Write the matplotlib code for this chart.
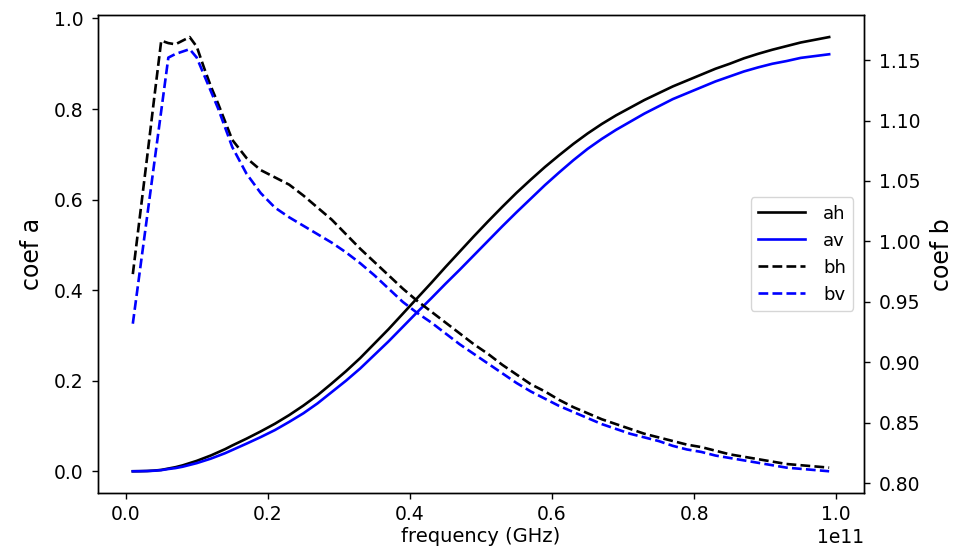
import matplotlib
matplotlib.use("Agg")
import matplotlib.pyplot as plt
import numpy as np

# frequency in GHz
freq_ghz = [1, 2, 3, 4, 5, 6, 7, 8, 9, 10, 11, 12, 13, 14, 15,
            17, 19, 21, 23, 25, 27, 29, 31, 33, 35, 37, 39, 41, 43, 45, 47, 49,
            51, 53, 55, 57, 59, 61, 63, 65, 67, 69, 71, 73, 75, 77, 79,
            81, 83, 85, 87, 89, 91, 93, 95, 97, 99]

ah = [0.0000, 0.0002, 0.0006, 0.0015, 0.003, 0.006, 0.009, 0.013, 0.018, 0.023,
      0.029, 0.035, 0.042, 0.049, 0.057,
      0.072, 0.088, 0.105, 0.124, 0.145, 0.168, 0.194, 0.221, 0.250, 0.282,
      0.314, 0.348, 0.382, 0.416, 0.451, 0.485, 0.519,
      0.552, 0.584, 0.615, 0.644, 0.672, 0.698, 0.723, 0.746, 0.767, 0.786,
      0.803, 0.820, 0.835, 0.850, 0.863,
      0.876, 0.889, 0.900, 0.912, 0.922, 0.931, 0.939, 0.947, 0.953, 0.959]

av = [0.0000, 0.0002, 0.0005, 0.0012, 0.0025, 0.005, 0.007, 0.010, 0.014, 0.018,
      0.023, 0.028, 0.034, 0.040, 0.047,
      0.061, 0.0755, 0.091, 0.109, 0.128, 0.150, 0.175, 0.200, 0.227, 0.257,
      0.287, 0.319, 0.351, 0.382, 0.414, 0.445, 0.477,
      0.509, 0.541, 0.572, 0.602, 0.632, 0.660, 0.687, 0.712, 0.734, 0.754,
      0.772, 0.790, 0.806, 0.822, 0.835,
      0.848, 0.861, 0.872, 0.883, 0.892, 0.900, 0.906, 0.913, 0.917, 0.921]

bh = [0.973, 1.021, 1.069, 1.118, 1.166, 1.164, 1.163, 1.166, 1.169, 1.161,
      1.144, 1.128, 1.114, 1.099, 1.084,
      1.069, 1.059, 1.053, 1.047, 1.038, 1.028, 1.018, 1.006, 0.994, 0.983,
      0.972, 0.961, 0.951, 0.942, 0.933, 0.924, 0.915,
      0.907, 0.898, 0.890, 0.882, 0.876, 0.869, 0.863, 0.858, 0.853, 0.849,
      0.845, 0.841, 0.838, 0.835, 0.832,
      0.830, 0.827, 0.824, 0.822, 0.820, 0.818, 0.816, 0.815, 0.814, 0.813]

bv = [0.932, 0.976, 1.020, 1.064, 1.108, 1.152, 1.155, 1.157, 1.159, 1.152,
      1.138, 1.124, 1.110, 1.094, 1.078,
      1.056, 1.040, 1.028, 1.020, 1.013, 1.006, 0.999, 0.991, 0.982, 0.972,
      0.961, 0.950, 0.941, 0.933, 0.924, 0.915, 0.907,
      0.899, 0.891, 0.883, 0.876, 0.870, 0.864, 0.859, 0.854, 0.849, 0.845,
      0.841, 0.838, 0.835, 0.831, 0.828,
      0.826, 0.823, 0.821, 0.819, 0.817, 0.815, 0.813, 0.812, 0.811, 0.810]

freq_hz = np.array(freq_ghz) * 1e9

plt.rcParams["axes.linewidth"] = 1.0

fig = plt.figure(figsize=(9.57, 5.48), dpi=100)
ax = fig.add_axes([0.1024, 0.1004, 0.8004, 0.8716])
ax2 = ax.twinx()

lw = 1.9
l1, = ax.plot(freq_hz, ah, color="black", lw=lw, label="ah")
l2, = ax.plot(freq_hz, av, color="blue", lw=lw, label="av")
l3, = ax2.plot(freq_hz, bh, color="black", lw=lw, ls="--", label="bh")
l4, = ax2.plot(freq_hz, bv, color="blue", lw=lw, ls="--", label="bv")

ax.set_xlabel("frequency (GHz)", fontsize=14, labelpad=2)
ax.set_ylabel("coef a", fontsize=17, labelpad=7)
ax2.set_ylabel("coef b", fontsize=17, labelpad=7)

ax.tick_params(axis="x", labelsize=13.5, length=4.5, width=1.0, pad=4)
ax.tick_params(axis="y", labelsize=13.5, length=4.5, width=1.0, pad=6)
ax2.tick_params(axis="y", labelsize=13.5, length=4.5, width=1.0, pad=6)
ax.xaxis.get_offset_text().set_fontsize(13.5)

ax2.set_yticks([0.80, 0.85, 0.90, 0.95, 1.00, 1.05, 1.10, 1.15])
ax.set_yticks([0.0, 0.2, 0.4, 0.6, 0.8, 1.0])

ax2.legend(handles=[l1, l2, l3, l4], loc="center right", fontsize=13,
           handlelength=2.6, handletextpad=1.0, borderaxespad=0.6)

fig.savefig("out.png", dpi=100)
